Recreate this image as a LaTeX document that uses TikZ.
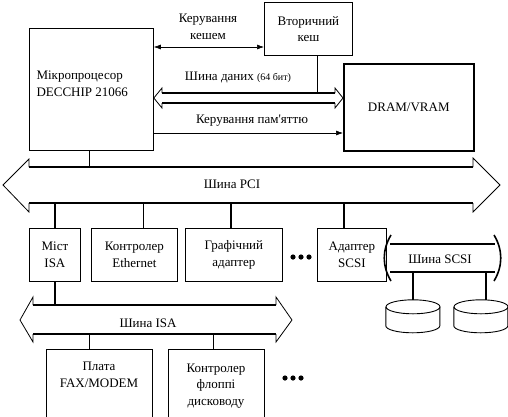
\documentclass[tikz,border=0pt]{standalone}
\usepackage{fontspec}
\setmainfont{Liberation Serif}
\newfontfamily\diagfont{Liberation Serif}
\usetikzlibrary{arrows.meta}

\tikzset{
    box/.style={draw, line width=0.8pt, inner sep=0pt},
    bus/.style={line width=2pt},
    head/.style={line width=0.8pt},
    link/.style={line width=1.6pt},
    ctrl/.style={line width=0.6pt},
    ctip/.tip={Latex[length=7pt,width=5pt]},
    disk/.style={minimum width=54, minimum height=33, inner sep=0pt},
    diskline/.style={draw, line width=0.9pt},
}

\begin{document}
\begin{tikzpicture}[x=1pt, y=-1pt, font=\diagfont\fontsize{13}{16.5}\selectfont]
    \path[use as bounding box, clip] (0,0) rectangle (508,416);

    \coordinate (cachectl) at (0,47);
    \coordinate (datatop) at (0,93);
    \coordinate (databot) at (0,103);
    \coordinate (memctl) at (0,133);
    \coordinate (pcitop) at (0,167);
    \coordinate (pcibot) at (0,203);
    \coordinate (scsitop) at (0,244);
    \coordinate (scsibot) at (0,272);
    \coordinate (isatop) at (0,305);
    \coordinate (isabot) at (0,334);

    % top part
    \node[box, minimum width=124, minimum height=122, anchor=north west] (cpu) at (29,28) {};
    \node[align=left, anchor=west] (cputext) at (33,84) {Мікропроцесор\\DECCHIP 21066};
    \node[box, minimum width=88, minimum height=53, anchor=north west, align=center] (cache) at (264,2) {Вторичний\\кеш};
    \node[box, line width=1.6pt, minimum width=130, minimum height=87, anchor=north west] (dram) at (343,63) {DRAM/VRAM};

    \path[draw, ctrl, ctip-ctip] (cpu.east |- cachectl) -- (cache.west |- cachectl);
    \node[align=center] (cachelabel) at (208,27) {Керування\\кешем};

    \path[draw, bus] (162,93) -- (335,93);
    \path[draw, bus] (162,103) -- (335,103);
    \path[draw, head] (162,93) -- (162,88) -- (cpu.east |- 0,98) -- (162,108) -- (162,103);
    \path[draw, head] (335,93) -- (335,88) -- (dram.west |- 0,98) -- (335,108) -- (335,103);
    \node (datalabel) at (238,77) {Шина даних {\fontsize{10}{12}\selectfont(64 бит)}};

    \path[draw, ctrl] ([xshift=9]cache.south) -- ([xshift=9]cache.south |- 0,82);
    \path[draw, link] ([xshift=9]cache.south |- 0,82) -- ([xshift=9]cache.south |- datatop);

    \path[draw, ctrl, -ctip] (cpu.east |- memctl) -- (dram.west |- memctl);
    \node (memlabel) at (252,121) {Керування пам'яттю};

    % PCI bus
    \path[draw, bus] (29,167) -- (473,167);
    \path[draw, bus] (29,203) -- (473,203);
    \path[draw, head] (29,167) -- (29,159) -- (3,185) -- (29,212) -- (29,203);
    \path[draw, head] (473,167) -- (473,158) -- (500,185) -- (473,212) -- (473,203);
    \node (pcilabel) at (232,184) {Шина PCI};

    \path[draw, link] ([xshift=-2]cpu.south) -- ([xshift=-2]cpu.south |- pcitop);

    % PCI devices
    \node[box, minimum width=51, minimum height=53, anchor=north west, align=center] (bridge) at (29,228) {Міст\\ISA};
    \node[box, minimum width=86, minimum height=53, anchor=north west, align=center] (eth) at (91,228) {Контролер\\Ethernet};
    \node[box, minimum width=97, minimum height=53, anchor=north west, align=center] (gfx) at (185,228) {Графічний\\адаптер};
    \node[box, minimum width=69, minimum height=53, anchor=north west, align=center] (scsi) at (317,228) {Адаптер\\SCSI};

    \path[draw, link] (bridge.north) -- (bridge.north |- pcibot);
    \path[draw, link] ([xshift=9]eth.north) -- ([xshift=9]eth.north |- pcibot);
    \path[draw, link] ([xshift=-3]gfx.north) -- ([xshift=-3]gfx.north |- pcibot);
    \path[draw, link] ([xshift=-8]scsi.north) -- ([xshift=-8]scsi.north |- pcibot);

    \foreach \x in {293,301,309}
        \path[fill=black] (\x,257) circle (2.6);

    % SCSI bus
    \path[draw, bus] (390,244) -- (495,244);
    \path[draw, bus] (390,272) -- (495,272);
    \path[draw, link] (391,235) .. controls (382,250) and (382,266) .. (391,281);
    \path[draw, link] (494,235) .. controls (503,250) and (503,266) .. (494,281);
    \node (scsilabel) at (440,259) {Шина SCSI};

    % disks
    \node[disk] (disk1) at (413,316.5) {};
    \node[disk] (disk2) at (481,316.5) {};
    \foreach \d in {disk1,disk2} {
        \path[diskline] (\d.north) ++(0,7) ellipse [x radius=27, y radius=7];
        \path[diskline] (\d.north west) ++(0,7) -- ++(0,19) arc[start angle=180, end angle=0, x radius=27, y radius=7] -- ++(0,-19);
    }
    \path[draw, link] (disk1.north) -- (disk1.north |- scsibot);
    \path[draw, link] ([xshift=5]disk2.north) -- ([xshift=5]disk2.north |- scsibot);

    % ISA bus
    \path[draw, bus] (33,305) -- (276,305);
    \path[draw, bus] (33,334) -- (276,334);
    \path[draw, head] (33,305) -- (33,297) -- (20,320) -- (33,342) -- (33,334);
    \path[draw, head] (276,305) -- (276,297) -- (292,320) -- (276,342) -- (276,334);
    \node (isalabel) at (148,323) {Шина ISA};

    \path[draw, link] (bridge.south) -- (bridge.south |- isatop);

    % ISA devices
    \node[box, minimum width=106, minimum height=90, anchor=north west] (fax) at (46,349) {};
    \node[align=center] (faxtext) at (99,375) {Плата\\FAX/MODEM};
    \node[box, minimum width=96, minimum height=90, anchor=north west] (fdd) at (168,349) {};
    \node[align=center] (fddtext) at (216,386) {Контролер\\флоппі\\дисководу};

    \path[draw, link] ([xshift=-10]fax.north) -- ([xshift=-10]fax.north |- isabot);
    \path[draw, link] ([xshift=-3]fdd.north) -- ([xshift=-3]fdd.north |- isabot);

    \foreach \x in {285,293,301}
        \path[fill=black] (\x,378) circle (2.6);

\end{tikzpicture}
\end{document}
